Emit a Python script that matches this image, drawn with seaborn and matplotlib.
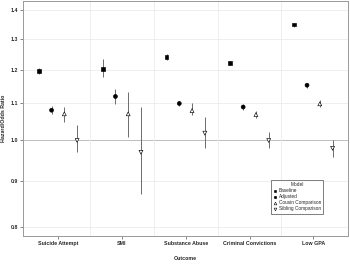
import seaborn as sns
import matplotlib.pyplot as plt
import pandas as pd
from matplotlib.ticker import FixedLocator, NullFormatter, FixedFormatter
from matplotlib.lines import Line2D

outcomes = ['Suicide Attempt', 'SMI', 'Substance Abuse', 'Criminal Convictions', 'Low GPA']
models = ['Baseline', 'Adjusted', 'Cousin Comparison', 'Sibling Comparison']

# estimate, lower, upper per model (order follows outcomes)
baseline = [1.195, 1.201, 1.240, 1.222, 1.348]
baseline_lo = [1.186, 1.178, 1.231, 1.216, 1.341]
baseline_hi = [1.204, 1.232, 1.249, 1.228, 1.355]

adjusted = [1.081, 1.120, 1.100, 1.090, 1.153]
adjusted_lo = [1.070, 1.099, 1.092, 1.082, 1.146]
adjusted_hi = [1.092, 1.141, 1.108, 1.098, 1.160]

cousin = [1.071, 1.071, 1.080, 1.069, 1.099]
cousin_lo = [1.050, 1.010, 1.068, 1.060, 1.089]
cousin_hi = [1.091, 1.132, 1.100, 1.080, 1.110]

sibling = [1.000, 0.970, 1.019, 1.000, 0.980]
sibling_lo = [0.970, 0.871, 0.980, 0.980, 0.959]
sibling_hi = [1.040, 1.091, 1.061, 1.021, 1.000]

rows = []
for m, est, lo, hi in zip(models,
                          [baseline, adjusted, cousin, sibling],
                          [baseline_lo, adjusted_lo, cousin_lo, sibling_lo],
                          [baseline_hi, adjusted_hi, cousin_hi, sibling_hi]):
    for i, o in enumerate(outcomes):
        rows.append(dict(outcome=o, model=m, est=est[i], lo=lo[i], hi=hi[i]))
df = pd.DataFrame(rows)

offsets = {'Baseline': -0.3, 'Adjusted': -0.1, 'Cousin Comparison': 0.1, 'Sibling Comparison': 0.3}
df['x'] = df['outcome'].map({o: i for i, o in enumerate(outcomes)}) + df['model'].map(offsets)

sns.set_style('white')
plt.rcParams['font.family'] = ['Liberation Sans', 'DejaVu Sans']

fig, ax = plt.subplots(figsize=(3.5, 2.66), dpi=100)
fig.subplots_adjust(left=0.067, right=0.994, top=0.996, bottom=0.113)

ax.set_yscale('log')
ax.set_ylim(0.782, 1.432)
ax.set_xlim(-0.54, 4.54)

# grid
for y in [0.8, 0.9, 1.1, 1.2, 1.3, 1.4]:
    ax.axhline(y, color='#ebebeb', lw=0.6, zorder=0)
ax.axhline(1.0, color='#bdbdbd', lw=0.7, zorder=0)
for xv in [0.5, 1.5, 2.5, 3.5]:
    ax.axvline(xv, color='#ebebeb', lw=0.6, zorder=0)

for m in models:
    d = df[df.model == m]
    ax.vlines(d['x'], d['lo'], d['hi'], color='#555555', lw=0.6, zorder=2)

sns.scatterplot(data=df, x='x', y='est', hue='model', style='model',
                hue_order=models, style_order=models,
                markers={'Baseline': 's', 'Adjusted': 'o', 'Cousin Comparison': '^', 'Sibling Comparison': 'v'},
                palette={'Baseline': 'black', 'Adjusted': 'black', 'Cousin Comparison': 'white', 'Sibling Comparison': 'white'},
                edgecolor='black', linewidth=0.45, s=8, ax=ax, zorder=3, legend=False)

# legend
handles = [Line2D([], [], ls='', marker='s', ms=1.8, mfc='black', mec='black', mew=0.4),
           Line2D([], [], ls='', marker='o', ms=1.8, mfc='black', mec='black', mew=0.4),
           Line2D([], [], ls='', marker='^', ms=2.0, mfc='white', mec='black', mew=0.4),
           Line2D([], [], ls='', marker='v', ms=2.0, mfc='white', mec='black', mew=0.4)]
leg = ax.legend(handles, models, title='Model', loc='lower left', bbox_to_anchor=(0.755, 0.085),
                fontsize=3.4, title_fontsize=3.4, frameon=True, fancybox=False,
                handlelength=0.6, handletextpad=0.6, labelspacing=0.2, borderpad=0.5)
leg.get_frame().set_edgecolor('#444444')
leg.get_frame().set_linewidth(0.6)

ax.yaxis.set_major_locator(FixedLocator([0.8, 0.9, 1.0, 1.1, 1.2, 1.3, 1.4]))
ax.yaxis.set_major_formatter(FixedFormatter(['0.8', '0.9', '1.0', '1.1', '1.2', '1.3', '1.4']))
ax.yaxis.set_minor_locator(FixedLocator([0.78 + 0.02 * k for k in range(33)]))
ax.yaxis.set_minor_formatter(NullFormatter())
ax.set_xticks(range(len(outcomes)))
ax.set_xticklabels(outcomes)

ax.tick_params(axis='both', which='major', labelsize=3.8, length=2.5, width=0.5, color='#555555', pad=1.5, direction='out')
ax.tick_params(axis='y', which='minor', length=1.3, width=0.4, color='#555555', direction='out')
ax.tick_params(left=True, bottom=True)
for lab in ax.get_xticklabels() + ax.get_yticklabels():
    lab.set_fontweight('bold')
for s in ax.spines.values():
    s.set_color('#999999')
    s.set_linewidth(0.7)

ax.set_xlabel('Outcome', fontsize=3.8, fontweight='bold', labelpad=7)
ax.set_ylabel('Hazard/Odds Ratio', fontsize=3.8, fontweight='bold', labelpad=3)

plt.savefig('out.png', dpi=100)
